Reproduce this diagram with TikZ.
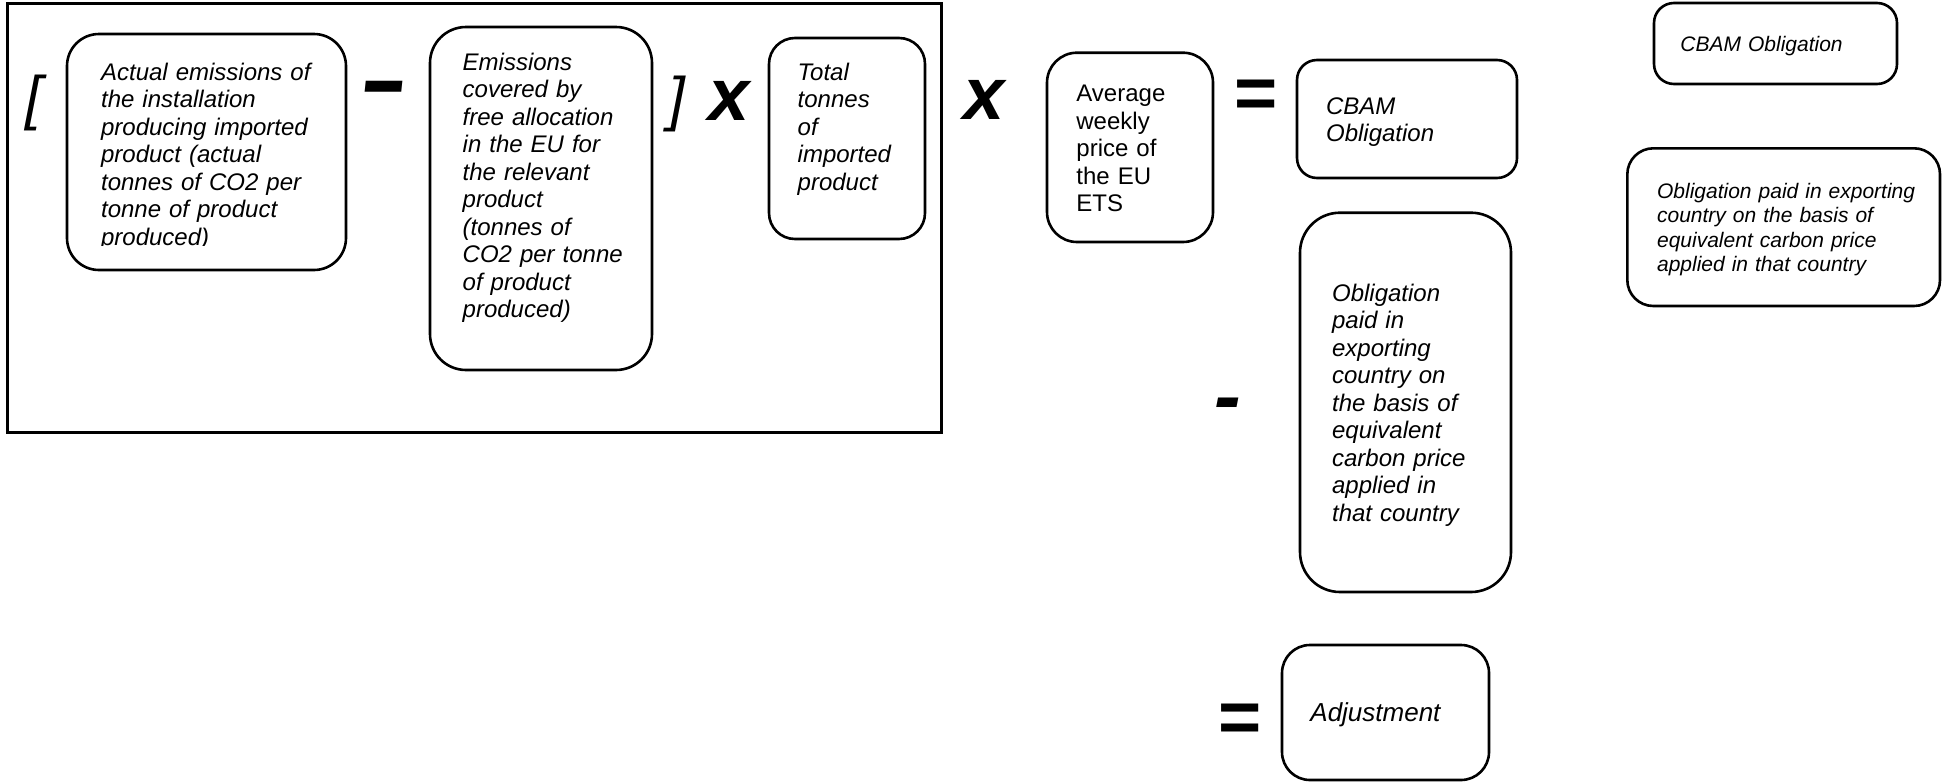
\documentclass[tikz,border=0pt]{standalone}
\usepackage{fontspec}
\usepackage{graphicx}
\setmainfont{Liberation Sans}
\usetikzlibrary{positioning}

\begin{document}
\begin{tikzpicture}[
      x=0.5pt, y=-0.5pt,
      term/.style={draw=black, line width=1.3pt},
      body/.style={anchor=base west, inner sep=0pt, align=left, text width=170pt,
        font=\fontsize{12}{13.75}\selectfont\itshape},
      small/.style={body, font=\fontsize{10.5}{12.2}\selectfont\itshape},
      op/.style={inner sep=0pt, font=\fontsize{37}{37}\selectfont\bfseries\itshape},
      eqs/.style={inner sep=0pt, font=\fontsize{37}{37}\selectfont\bfseries}
    ]
      \useasboundingbox (0,0) rectangle (1942,782);

      % bracketed part
      \draw[line width=1.5pt] (7,3.5) rectangle (941,432);
      \node[inner sep=0pt, font=\fontsize{30}{30}\selectfont\itshape] (open) at (33.8,103.3) {[};
      \draw[term, rounded corners=16pt] (67,34) rectangle (346,270);
      \begin{scope}
        \clip (70,40) rectangle (340,245);
        \node[body] (actual) at (100.7,80) {Actual emissions of\\the installation\\producing imported\\product (actual\\tonnes of CO2 per\\tonne of product\\produced)};
      \end{scope}
      \node[op] (minus) at (384,98.5) {\scalebox{1}[1.5]{–}};
      \draw[term, rounded corners=18pt] (430,27) rectangle (652,370);
      \node[body] (free) at (462.3,70) {Emissions\\covered by\\free allocation\\in the EU for\\the relevant\\product\\(tonnes of\\CO2 per tonne\\of product\\produced)};
      \node[inner sep=0pt, font=\fontsize{30}{30}\selectfont\itshape] (close) at (677,103.5) {]};
      \node[op] (times) at (729.5,101) {x};
      \draw[term, rounded corners=13pt] (769,38) rectangle (925,239);
      \node[body] (tonnes) at (797.3,80) {Total\\tonnes\\of\\imported\\product};

      % price and result
      \node[op] (timesb) at (984.5,100) {x};
      \draw[term, rounded corners=15pt] (1047,52.7) rectangle (1213,242);
      \node[body, font=\fontsize{12}{13.75}\selectfont] (price) at (1076,101.7) {Average\\weekly\\price of\\the EU\\ETS};
      \node[eqs] (eq) at (1256.5,99.5) {=};
      \draw[term, rounded corners=10pt] (1297,60) rectangle (1517,178);
      \node[body] (cbam) at (1325.7,114) {CBAM\\Obligation};

      % adjustment
      \node[op, font=\fontsize{40}{40}\selectfont\bfseries\itshape] (less) at (1228,411) {-};
      \draw[term, rounded corners=20pt] (1300,212.7) rectangle (1511,592);
      \node[body] (paid) at (1331.7,301) {Obligation\\paid in\\exporting\\country on\\the basis of\\equivalent\\carbon price\\applied in\\that country};
      \node[eqs] (eqb) at (1240.5,723.5) {=};
      \draw[term, rounded corners=14pt] (1282,645) rectangle (1489,780);
      \node[body, font=\fontsize{13}{15}\selectfont\itshape] (adjust) at (1310,721) {Adjustment};

      % key on the right
      \draw[term, rounded corners=10pt] (1654,3) rectangle (1897,84);
      \node[small] (cbamkey) at (1680,51) {CBAM Obligation};
      \draw[term, rounded corners=13pt] (1627.3,148.3) rectangle (1940,306);
      \node[small] (paidkey) at (1656.7,198.5) {Obligation paid in exporting\\country on the basis of\\equivalent carbon price\\applied in that country};
    \end{tikzpicture}
\end{document}
